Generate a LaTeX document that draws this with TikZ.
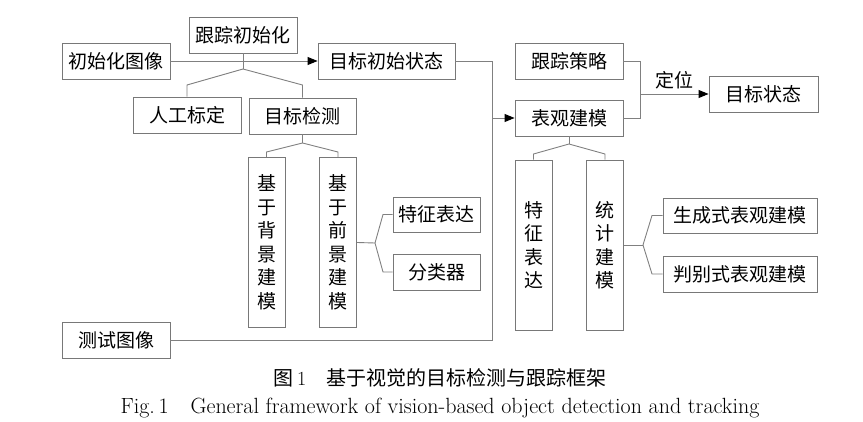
\documentclass[tikz,border=0pt]{standalone}
\usepackage{fontspec}
\usepackage{tikz}
\usetikzlibrary{arrows.meta}
\newfontfamily\cjk{Noto Sans CJK SC}
\definecolor{linegray}{RGB}{128,128,128}
\definecolor{boxgray}{RGB}{120,120,120}

\begin{document}
\begin{tikzpicture}[x=1pt, y=-1pt,
  box/.style={draw=boxgray, line width=0.9pt, minimum width=108pt, minimum height=36pt,
    inner sep=0pt, font=\cjk\fontsize{19}{22}\selectfont},
  vbox/.style={box, minimum width=37pt, minimum height=170pt, align=center,
    font=\cjk\fontsize{19}{23.5}\selectfont},
  link/.style={draw=linegray, line width=0.9pt},
  arr/.style={link, -{Triangle[length=10pt, width=8pt, color=black]}}]
\useasboundingbox (0,0) rectangle (863,422);
\node[box] (imginit) at (116,61) {初始化图像};
\node[box] (trkinit) at (243,35) {跟踪初始化};
\node[box, minimum width=137pt] (objinit) at (386.5,61) {目标初始状态};
\node[box] (manual) at (187,115) {人工标定};
\node[box, minimum width=107pt] (detect) at (302.5,116) {目标检测};
\node[vbox] (bgmodel) at (266.5,242.5) {基\\于\\背\\景\\建\\模};
\node[vbox] (fgmodel) at (338,242.5) {基\\于\\前\\景\\建\\模};
\node[box, minimum width=87pt, minimum height=35pt] (featA) at (436.5,214.5) {特征表达};
\node[box, minimum width=87pt] (classifier) at (436.5,272) {分类器};
\node[box] (testimg) at (116,340) {测试图像};
\node[box] (strategy) at (569,61) {跟踪策略};
\node[box] (appear) at (569,118) {表观建模};
\node[box, minimum width=109pt] (objstate) at (763.5,94) {目标状态};
\node[vbox] (featB) at (533.5,245) {特\\征\\表\\达};
\node[vbox] (statmodel) at (605,245) {统\\计\\建\\模};
\node[box, minimum width=154pt, minimum height=35pt] (generative) at (740,215.5) {生成式表观建模};
\node[box, minimum width=154pt] (discrim) at (740,274) {判别式表观建模};

\coordinate (j1) at (243,69);
\coordinate (j2) at (302.5,143);
\coordinate (j3) at (375,243);
\coordinate (j4) at (492,61);
\coordinate (j5) at (640,94);
\coordinate (j6) at (569,144);
\coordinate (j7) at (643,245);

\draw[arr] (imginit.east) -- (objinit.west);
\draw[link] (trkinit.south) -- (j1);
\draw[link] (j1) -- (187,85) -- (manual.north);
\draw[link] (j1) -- (302.5,85) -- (detect.north);
\draw[link] (detect.south) -- (j2);
\draw[link] (j2) -- (266.5,152) -- (bgmodel.north);
\draw[link] (j2) -- (338,152) -- (fgmodel.north);
\draw[link] (fgmodel.east) -- (j3);
\draw[link] (j3) -- (383,214.5) -- (featA.west);
\draw[link] (j3) -- (383,272) -- (classifier.west);
\draw[link] (objinit.east) -- (j4) |- (testimg.east);
\draw[arr] (j4 |- appear.west) -- (appear.west);
\draw[link] (strategy.east) -| (j5);
\draw[link] (appear.east) -| (j5);
\draw[arr] (j5) -- node[above=1pt, font=\cjk\fontsize{19}{22}\selectfont] {定位} (objstate.west);
\draw[link] (appear.south) -- (j6);
\draw[link] (j6) -- (533.5,154) -- (featB.north);
\draw[link] (j6) -- (605,154) -- (statmodel.north);
\draw[link] (statmodel.east) -- (j7);
\draw[link] (j7) -- (652,215.5) -- (generative.west);
\draw[link] (j7) -- (652,274) -- (discrim.west);

\node[font=\fontsize{20}{22}\selectfont] (capcn) at (440,378) {{\cjk 图}\,1\quad{\cjk 基于视觉的目标检测与跟踪框架}};
\node[font=\fontsize{22}{24}\selectfont] (capen) at (440,408) {Fig.\,1\quad General framework of vision-based object detection and tracking};
\end{tikzpicture}
\end{document}
